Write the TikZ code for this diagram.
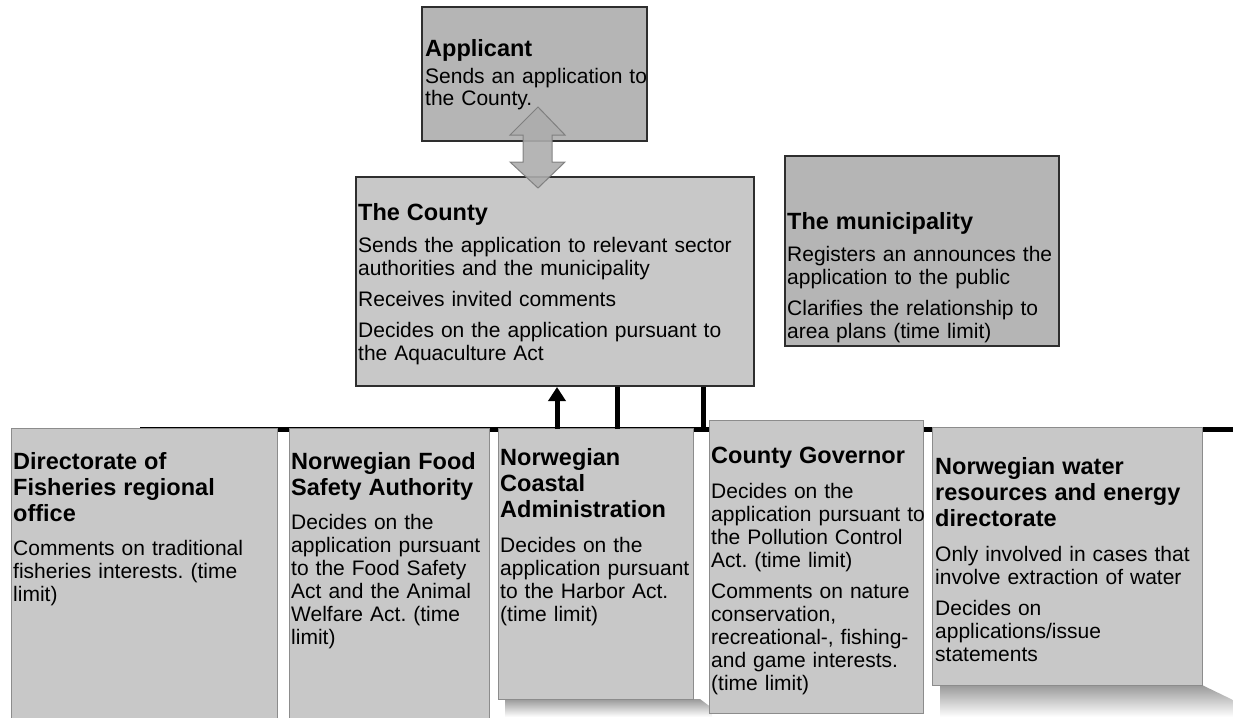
\documentclass[tikz,border=0pt]{standalone}
\usepackage{fontspec}
\setmainfont{Liberation Sans}
\usetikzlibrary{arrows.meta}
\definecolor{boxlight}{HTML}{C8C8C8}
\definecolor{boxdark}{HTML}{B5B5B5}
\definecolor{edgedark}{HTML}{2E2E2E}
\definecolor{edgelight}{HTML}{8C8C8C}
\definecolor{arrowfill}{HTML}{ADADAD}
\definecolor{arrowedge}{HTML}{7A7A7A}
\frenchspacing
\hyphenpenalty=10000
\newcommand{\ttl}[2]{{\fontsize{23.5}{26}\selectfont\bfseries #1\par}\vspace{#2pt}}
\newcommand{\pgap}{\par\vspace{8pt}}
\begin{document}
\begin{tikzpicture}[x=1pt,y=-1pt,
  toppanel/.style={draw=edgedark,line width=2pt,fill=boxdark,inner sep=0pt,anchor=north west},
  panel/.style={draw=edgelight,line width=0.9pt,fill=boxlight,inner sep=0pt,anchor=north west},
  txt/.style={anchor=north west,inner sep=0pt,text width=440pt,align=left,font=\fontsize{21}{23}\selectfont},
  bus/.style={line width=5pt,black},
  shadowfill/.style={top color=black!40,bottom color=white,draw=none}]
\useasboundingbox (0,0) rectangle (1233,717);

% bus and connectors
\coordinate (busL) at (140,429);
\coordinate (busR) at (1233,429);
\coordinate (b1) at (557,429);
\coordinate (b2) at (617,429);
\coordinate (b3) at (703,429);
\draw[bus] (busL) -- (busR);

% shadows
\shade[shadowfill] (505,699) -- (700,699) -- (712,708) -- (712,717) -- (505,717) -- cycle;
\shade[shadowfill] (940,685) -- (1202,685) -- (1233,700) -- (1233,717) -- (940,717) -- cycle;

% top boxes
\node[toppanel,minimum width=225pt,minimum height=134pt] (app) at (421,6) {};
\node[toppanel,fill=boxlight,minimum width=398pt,minimum height=209pt] (county) at (355,176) {};
\node[toppanel,minimum width=274pt,minimum height=190pt] (muni) at (784,155) {};

% bottom boxes
\node[panel,minimum width=266pt,minimum height=290pt] (dir) at (11,428) {};
\node[panel,minimum width=200pt,minimum height=290pt] (food) at (289,428) {};
\node[panel,minimum width=195pt,minimum height=271pt] (coast) at (498,428) {};
\node[panel,minimum width=214pt,minimum height=293pt] (gov) at (709,420) {};
\node[panel,minimum width=270pt,minimum height=258pt] (nve) at (932,427) {};

% vertical connectors
\draw[bus,-{Triangle[length=14pt,width=17pt]}] (b1) -- (b1 |- county.south);
\draw[bus] (b2) -- (b2 |- county.south);
\draw[bus] (b3) -- (b3 |- county.south);

% double arrow between applicant and county
\path[fill=arrowfill,draw=arrowedge,line width=1pt,opacity=0.9]
  (538,107) -- (565,135) -- (552,135) -- (552,162) -- (565,162) -- (538,188)
  -- (510,162) -- (523,162) -- (523,135) -- (510,135) -- cycle;

% texts
\node[txt,font=\fontsize{21}{22}\selectfont] (app-t) at (425,39.5) {\ttl{Applicant}{5}Sends an application to\\the County.};
\node[txt] (county-t) at (358,203) {\ttl{The County}{9}Sends the application to relevant sector\\authorities and the municipality\pgap Receives invited comments\pgap Decides on the application pursuant to\\the Aquaculture Act};
\node[txt] (muni-t) at (787,212) {\ttl{The municipality}{9}Registers an announces the\\application to the public\pgap Clarifies the relationship to\\area plans (time limit)};
\node[txt] (dir-t) at (13,452) {\ttl{Directorate of\\Fisheries regional\\office}{11}Comments on traditional\\fisheries interests. (time\\limit)};
\node[txt] (food-t) at (291,452) {\ttl{Norwegian Food\\Safety Authority}{11}Decides on the\\application pursuant\\to the Food Safety\\Act and the Animal\\Welfare Act. (time\\limit)};
\node[txt] (coast-t) at (500,448) {\ttl{Norwegian\\Coastal\\Administration}{12}Decides on the\\application pursuant\\to the Harbor Act.\\(time limit)};
\node[txt] (gov-t) at (711,447) {\ttl{County Governor}{12}Decides on the\\application pursuant to\\the Pollution Control\\Act. (time limit)\pgap Comments on nature\\conservation,\\recreational-, fishing-\\and game interests.\\(time limit)};
\node[txt] (nve-t) at (935,457) {\ttl{Norwegian water\\resources and energy\\directorate}{12}Only involved in cases that\\involve extraction of water\pgap Decides on\\applications/issue\\statements};
\end{tikzpicture}
\end{document}
